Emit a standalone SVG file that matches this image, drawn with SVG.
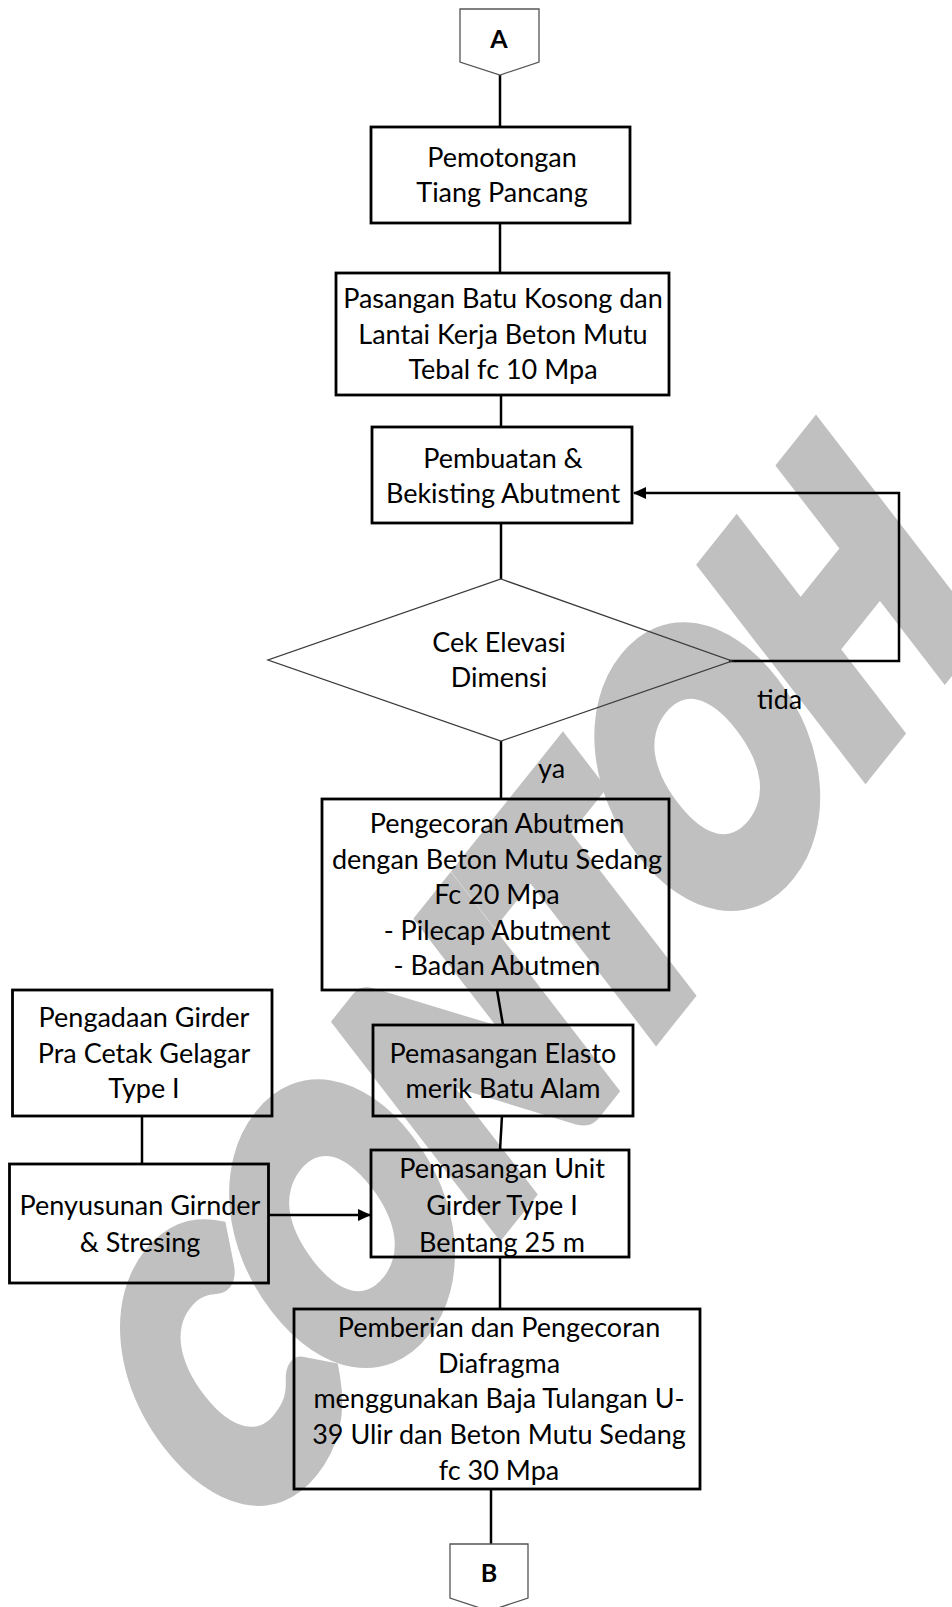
<svg xmlns="http://www.w3.org/2000/svg" width="952" height="1607" viewBox="0 0 952 1607">
  <defs>
    <style>
      .box { fill: none; stroke: #000; stroke-width: 2.8; }
      .dia { fill: none; stroke: #3a3a3a; stroke-width: 1.3; }
      .off { fill: none; stroke: #555; stroke-width: 1.3; }
      .conn { fill: none; stroke: #000; stroke-width: 2.5; }
      .t { font-family: Lato, "Liberation Sans", sans-serif; font-size: 27px; fill: #000; text-anchor: middle; }
      .lbl { font-family: Lato, "Liberation Sans", sans-serif; font-size: 27px; fill: #000; }
      .tb { font-family: Lato, "Liberation Sans", sans-serif; font-size: 25px; font-weight: 700; fill: #000; text-anchor: middle; }
      .wm { font-family: Lato, "Liberation Sans", sans-serif; font-size: 100px; font-weight: 900; fill: #c0c0c0; stroke: #c0c0c0; stroke-width: 9; stroke-linejoin: miter; text-anchor: middle; }
    </style>
    <marker id="arrow" markerWidth="13" markerHeight="12" refX="12" refY="6" orient="auto" markerUnits="userSpaceOnUse" viewBox="0 0 13 12">
      <path d="M0,0 L13,6 L0,12 Z" fill="#000"/>
    </marker>
  </defs>
  <rect width="952" height="1607" fill="#fff"/>

  <!-- diagonal watermark behind the chart -->
  <g id="watermark">
    <text class="wm" transform="matrix(1.685 -2.109 2.077 2.693 611 1079)">CONTOH</text>
  </g>

  <g id="connectors">
    <line class="conn" x1="500" y1="75" x2="500" y2="127"/>
    <line class="conn" x1="500" y1="223" x2="500" y2="273"/>
    <line class="conn" x1="501" y1="395" x2="501" y2="427"/>
    <line class="conn" x1="501" y1="523" x2="501" y2="579"/>
    <line class="conn" x1="501" y1="741" x2="501" y2="799"/>
    <polyline class="conn" points="729,661 899,661 899,493 634,493" marker-end="url(#arrow)"/>
    <line class="conn" x1="497" y1="990" x2="503" y2="1025"/>
    <line class="conn" x1="502" y1="1116" x2="500" y2="1150"/>
    <line class="conn" x1="142" y1="1116" x2="142" y2="1164"/>
    <line class="conn" x1="269" y1="1215" x2="370" y2="1215" marker-end="url(#arrow)"/>
    <line class="conn" x1="500" y1="1257" x2="500" y2="1309"/>
    <line class="conn" x1="491" y1="1489" x2="491" y2="1544"/>
  </g>

  <g id="node-a">
    <polygon class="off" points="460,9 539,9 539,62 500,75 460,62"/>
    <text class="tb" x="499" y="48">A</text>
  </g>

  <g id="node-pemotongan">
    <rect class="box" x="371" y="127" width="259" height="96"/>
    <text class="t" x="502" y="167">Pemotongan</text>
    <text class="t" x="502" y="202">Tiang Pancang</text>
  </g>

  <g id="node-pasangan">
    <rect class="box" x="336" y="273" width="333" height="122"/>
    <text class="t" x="503" y="308">Pasangan Batu Kosong dan</text>
    <text class="t" x="503" y="344">Lantai Kerja Beton Mutu</text>
    <text class="t" x="503" y="379">Tebal fc 10 Mpa</text>
  </g>

  <g id="node-bekisting">
    <rect class="box" x="372" y="427" width="260" height="96"/>
    <text class="t" x="503" y="468">Pembuatan &amp;</text>
    <text class="t" x="503" y="503">Bekisting Abutment</text>
  </g>

  <g id="node-cek">
    <polygon class="dia" points="501,579 732,661 501,741 268,660"/>
    <text class="t" x="499" y="652">Cek Elevasi</text>
    <text class="t" x="499" y="687">Dimensi</text>
  </g>

  <g id="labels">
    <text class="lbl" x="757" y="709">tida</text>
    <text class="lbl" x="538" y="778">ya</text>
  </g>

  <g id="node-pengecoran">
    <rect class="box" x="322" y="799" width="347" height="191"/>
    <text class="t" x="497" y="833">Pengecoran Abutmen</text>
    <text class="t" x="497" y="869">dengan Beton Mutu Sedang</text>
    <text class="t" x="497" y="904">Fc 20 Mpa</text>
    <text class="t" x="497" y="940">- Pilecap Abutment</text>
    <text class="t" x="497" y="975">- Badan Abutmen</text>
  </g>

  <g id="node-pengadaan">
    <rect class="box" x="12.5" y="990" width="259.5" height="126"/>
    <text class="t" x="144" y="1027">Pengadaan Girder</text>
    <text class="t" x="144" y="1063">Pra Cetak Gelagar</text>
    <text class="t" x="144" y="1098">Type I</text>
  </g>

  <g id="node-elastomerik">
    <rect class="box" x="373" y="1025" width="260" height="91"/>
    <text class="t" x="503" y="1063">Pemasangan Elasto</text>
    <text class="t" x="503" y="1098">merik Batu Alam</text>
  </g>

  <g id="node-penyusunan">
    <rect class="box" x="9.5" y="1164" width="259" height="119"/>
    <text class="t" x="140" y="1215">Penyusunan Girnder</text>
    <text class="t" x="140" y="1252">&amp; Stresing</text>
  </g>

  <g id="node-girder">
    <rect class="box" x="371" y="1150" width="258" height="107"/>
    <text class="t" x="502" y="1178">Pemasangan Unit</text>
    <text class="t" x="502" y="1215">Girder Type I</text>
    <text class="t" x="502" y="1252">Bentang 25 m</text>
  </g>

  <g id="node-diafragma">
    <rect class="box" x="294" y="1309" width="406" height="180"/>
    <text class="t" x="499" y="1337">Pemberian dan Pengecoran</text>
    <text class="t" x="499" y="1373">Diafragma</text>
    <text class="t" x="499" y="1408">menggunakan Baja Tulangan U-</text>
    <text class="t" x="499" y="1444">39 Ulir dan Beton Mutu Sedang</text>
    <text class="t" x="499" y="1480">fc 30 Mpa</text>
  </g>

  <g id="node-b">
    <polygon class="off" points="450,1544 528,1544 528,1598 489,1611 450,1598"/>
    <text class="tb" x="489" y="1582">B</text>
  </g>
</svg>
